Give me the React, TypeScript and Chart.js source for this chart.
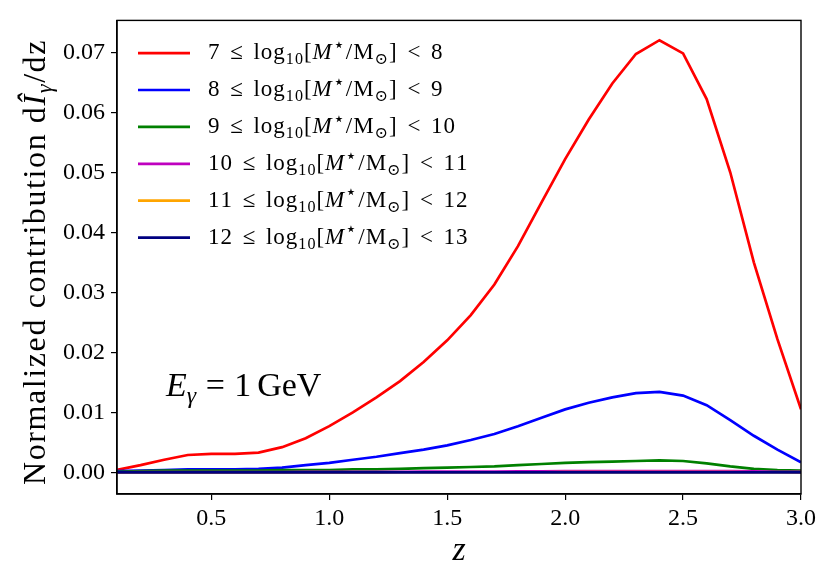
import React, { useEffect, useRef } from 'react';
import { Chart, registerables } from 'chart.js';

Chart.register(...registerables);

// ---- data ----
const redshift = [0.1, 0.2, 0.3, 0.4, 0.5, 0.6, 0.7, 0.8, 0.9, 1.0, 1.1, 1.2, 1.3, 1.4, 1.5, 1.6, 1.7, 1.8, 1.9, 2.0, 2.1, 2.2, 2.3, 2.4, 2.5, 2.6, 2.7, 2.8, 2.9, 3.0];
const bin7to8 = [0.0004, 0.0012, 0.0021, 0.0029, 0.0031, 0.0031, 0.0033, 0.0042, 0.0057, 0.0077, 0.0100, 0.0125, 0.0152, 0.0184, 0.0220, 0.0262, 0.0313, 0.0377, 0.0450, 0.0522, 0.0588, 0.0648, 0.0697, 0.0720, 0.0698, 0.0622, 0.0500, 0.0350, 0.0222, 0.0105];
const bin8to9 = [0.0002, 0.0003, 0.0004, 0.0005, 0.0005, 0.0005, 0.0006, 0.0008, 0.0012, 0.0016, 0.0021, 0.0026, 0.0032, 0.0038, 0.0045, 0.0054, 0.0064, 0.0077, 0.0091, 0.0105, 0.0116, 0.0125, 0.0132, 0.0134, 0.0128, 0.0112, 0.0087, 0.0061, 0.0038, 0.0017];
const bin9to10 = [0.0001, 0.0002, 0.0003, 0.0003, 0.0003, 0.0003, 0.0003, 0.0004, 0.0004, 0.0004, 0.0005, 0.0005, 0.0006, 0.0007, 0.0008, 0.0009, 0.0010, 0.0012, 0.0014, 0.0016, 0.0017, 0.0018, 0.0019, 0.0020, 0.0019, 0.0015, 0.0010, 0.0006, 0.0004, 0.0003];
const bin10to11 = [0.00002, 0.00003, 0.00004, 0.00005, 0.00005, 0.00005, 0.00005, 0.00006, 0.00007, 0.00008, 0.00009, 0.0001, 0.00011, 0.00012, 0.00013, 0.00014, 0.00015, 0.00016, 0.00018, 0.0002, 0.00021, 0.00022, 0.00023, 0.00023, 0.00023, 0.00022, 0.0002, 0.00016, 0.00011, 0.00007];
const bin11to12 = [0.00001, 0.00001, 0.00001, 0.00001, 0.00001, 0.00001, 0.00001, 0.00001, 0.00001, 0.00001, 0.00001, 0.00001, 0.00002, 0.00002, 0.00002, 0.00002, 0.00002, 0.00002, 0.00002, 0.00003, 0.00003, 0.00003, 0.00003, 0.00003, 0.00003, 0.00003, 0.00003, 0.00002, 0.00002, 0.00001];
const bin12to13 = [0, 0, 0, 0, 0, 0, 0, 0, 0, 0, 0, 0, 0, 0, 0, 0, 0, 0, 0, 0, 0, 0, 0, 0, 0, 0, 0, 0, 0, 0];
const massEdges = ['7', '8', '9', '10', '11', '12', '13'];
const seriesColors = ['#ff0000', '#0000ff', '#008000', '#bf00bf', '#ffa500', '#000080'];
const xTickValues = [0.5, 1.0, 1.5, 2.0, 2.5, 3.0];
const yTickValues = [0, 0.01, 0.02, 0.03, 0.04, 0.05, 0.06, 0.07];
const X_MIN = 0.1;
const X_MAX = 3.0;
const Y_MIN = -0.0036;
const Y_MAX = 0.0753;
const energyLabel = ['E', 'γ', '1', 'GeV'];

const allSeries = [bin7to8, bin8to9, bin9to10, bin10to11, bin11to12, bin12to13];

const FAMILY = '"Liberation Serif", "DejaVu Serif", serif';

type Seg = { t?: string; it?: boolean; sub?: boolean; sup?: boolean; gap?: number; scale?: number };

function drawRich(ctx: CanvasRenderingContext2D, segs: Seg[], x: number, y: number, size: number, ls = 0, measureOnly = false): number {
  let cx = x;
  for (const s of segs) {
    if (s.gap) { cx += s.gap * size; continue; }
    const fs = (s.sub || s.sup ? size * 0.7 : size) * (s.scale || 1);
    ctx.font = `${s.it ? 'italic ' : ''}${fs}px ${FAMILY}`;
    const dy = s.sub ? size * 0.22 : s.sup ? -size * 0.36 : 0;
    const text = s.t || '';
    if (ls === 0) {
      if (!measureOnly) ctx.fillText(text, cx, y + dy);
      cx += ctx.measureText(text).width;
    } else {
      for (const ch of Array.from(text)) {
        if (!measureOnly) ctx.fillText(ch, cx, y + dy);
        cx += ctx.measureText(ch).width + ls;
      }
    }
  }
  return cx - x;
}

function legendSegs(lo: string, hi: string): Seg[] {
  return [
    { t: lo }, { gap: 0.42 }, { t: '≤' }, { gap: 0.42 }, { t: 'log' }, { t: '10', sub: true }, { t: '[' },
    { t: 'M', it: true }, { t: '⋆', sup: true, scale: 1.2 }, { t: '/M' }, { t: '⊙', sub: true }, { t: ']' },
    { gap: 0.42 }, { t: '<' }, { gap: 0.42 }, { t: hi },
  ];
}

const decorPlugin = {
  id: 'decor',
  afterDraw(chart: any) {
    const { ctx, chartArea: ca } = chart;
    ctx.save();
    // frame
    ctx.strokeStyle = '#000';
    ctx.lineWidth = 1.4;
    ctx.strokeRect(ca.left, ca.top, ca.right - ca.left, ca.bottom - ca.top);

    ctx.fillStyle = '#000';
    ctx.textAlign = 'left';
    ctx.textBaseline = 'alphabetic';

    // legend
    for (let i = 0; i < allSeries.length; i++) {
      const ly = ca.top + 32.7 + i * 36.9;
      ctx.strokeStyle = seriesColors[i];
      ctx.lineWidth = 2.7;
      ctx.beginPath();
      ctx.moveTo(ca.left + 21, ly);
      ctx.lineTo(ca.left + 73, ly);
      ctx.stroke();
      ctx.fillStyle = '#000';
      drawRich(ctx, legendSegs(massEdges[i], massEdges[i + 1]), ca.left + 91, ly + 6, 23, 1.0);
    }

    // annotation
    drawRich(ctx, [
      { t: energyLabel[0], it: true }, { t: energyLabel[1], it: true, sub: true }, { gap: 0.28 }, { t: '=' }, { gap: 0.28 },
      { t: energyLabel[2] }, { gap: 0.17 }, { t: energyLabel[3] },
    ], 166, 396, 34);

    // y title
    const ySegs: Seg[] = [{ t: 'Normalized contribution d' }, { t: 'Î', it: true }, { t: 'γ', it: true, sub: true }, { t: '/dz' }];
    const size = 32;
    const ls = 1.6;
    const w = drawRich(ctx, ySegs, 0, 0, size, ls, true);
    ctx.translate(45, 262);
    ctx.rotate(-Math.PI / 2);
    drawRich(ctx, ySegs, -w / 2, 0, size, ls);
    ctx.restore();
  },
};

export default function App() {
  const ref = useRef<HTMLCanvasElement>(null);
  useEffect(() => {
    if (!ref.current) return;
    const chart = new Chart(ref.current, {
      type: 'line',
      data: {
        datasets: allSeries.map((vals, i) => ({
          label: `${massEdges[i]} ≤ log10[M*/Msun] < ${massEdges[i + 1]}`,
          data: redshift.map((z, k) => ({ x: z, y: vals[k] })),
          borderColor: seriesColors[i],
          backgroundColor: seriesColors[i],
          borderWidth: 2.7,
          pointRadius: 0,
          tension: 0,
          fill: false,
          order: allSeries.length - i,
        })),
      },
      options: {
        responsive: false,
        animation: false,
        layout: { padding: { left: 0, right: 29, top: 18, bottom: 0 } },
        plugins: { legend: { display: false }, tooltip: { enabled: false }, title: { display: false } },
        scales: {
          x: {
            type: 'linear',
            min: X_MIN,
            max: X_MAX,
            afterBuildTicks: (s: any) => { s.ticks = xTickValues.map((v) => ({ value: v })); },
            afterFit: (s: any) => { s.height = 86; },
            grid: { display: true, drawOnChartArea: false, drawTicks: true, tickLength: 6, color: '#000', lineWidth: 1.2 },
            border: { display: true, color: '#000', width: 1.4 },
            ticks: { color: '#000', font: { family: FAMILY, size: 24 }, padding: 4, maxRotation: 0, callback: (v: any) => Number(v).toFixed(1) },
            title: { display: true, text: 'z', color: '#000', font: { family: FAMILY, size: 34, style: 'italic' }, padding: { top: 0, bottom: 9 } },
          },
          y: {
            type: 'linear',
            min: Y_MIN,
            max: Y_MAX,
            afterBuildTicks: (s: any) => { s.ticks = yTickValues.map((v) => ({ value: v })); },
            afterFit: (s: any) => { s.width = 117; },
            grid: { display: true, drawOnChartArea: false, drawTicks: true, tickLength: 6, color: '#000', lineWidth: 1.2 },
            border: { display: true, color: '#000', width: 1.4 },
            ticks: { color: '#000', font: { family: FAMILY, size: 24 }, padding: 6, callback: (v: any) => Number(v).toFixed(2) },
          },
        },
      },
      plugins: [decorPlugin],
    });
    return () => chart.destroy();
  }, []);
  return (
    <div style={{ position: 'absolute', left: 0, top: 0, width: 830, height: 580, background: '#fff' }}>
      <canvas ref={ref} width={830} height={580} style={{ display: 'block', width: 830, height: 580 }} />
    </div>
  );
}
